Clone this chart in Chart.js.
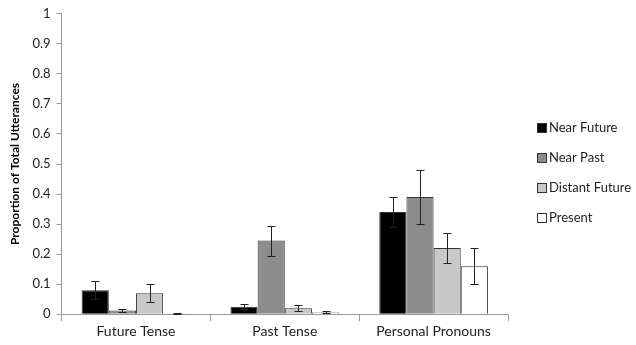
<!DOCTYPE html>
<html>
<head>
<meta charset="utf-8">
<script src="https://cdn.jsdelivr.net/npm/chart.js@4"></script>
<style>
  html, body { margin: 0; padding: 0; background: #fff; }
  #wrap { width: 636px; height: 345px; }
</style>
</head>
<body>
<div id="wrap"><canvas id="chart"></canvas></div>
<script>
// Data
const categories = ['Future Tense', 'Past Tense', 'Personal Pronouns'];
const seriesNames = ['Near Future', 'Near Past', 'Distant Future', 'Present'];
const nearFuture = [0.08, 0.025, 0.34];
const nearPast = [0.012, 0.245, 0.39];
const distantFuture = [0.07, 0.02, 0.22];
const present = [0.002, 0.006, 0.16];
const nearFutureErr = [0.03, 0.008, 0.05];
const nearPastErr = [0.004, 0.05, 0.09];
const distantFutureErr = [0.03, 0.01, 0.05];
const presentErr = [0.001, 0.003, 0.06];
const yTicks = [0, 0.1, 0.2, 0.3, 0.4, 0.5, 0.6, 0.7, 0.8, 0.9, 1];

const seriesValues = [nearFuture, nearPast, distantFuture, present];
const seriesErrors = [nearFutureErr, nearPastErr, distantFutureErr, presentErr];
const fills = ['#000000', '#8c8c8c', '#c8c8c8', '#ffffff'];

// error bars drawn on top of the bars
const errorBars = {
    id: 'errorBars',
    afterDatasetsDraw(chart) {
        const ctx = chart.ctx;
        const y = chart.scales.y;
        ctx.save();
        ctx.strokeStyle = '#222';
        ctx.lineWidth = 1;
        chart.data.datasets.forEach((ds, di) => {
            const meta = chart.getDatasetMeta(di);
            meta.data.forEach((bar, i) => {
                const v = ds.data[i];
                const e = seriesErrors[di][i];
                const top = Math.round(y.getPixelForValue(v + e)) + 0.5;
                const bot = Math.round(y.getPixelForValue(Math.max(0, v - e))) + 0.5;
                const x = Math.round(bar.x) + 0.5;
                ctx.beginPath();
                ctx.moveTo(x, top); ctx.lineTo(x, bot);
                ctx.moveTo(x - 4, top); ctx.lineTo(x + 4, top);
                ctx.moveTo(x - 4, bot); ctx.lineTo(x + 4, bot);
                ctx.stroke();
            });
        });
        ctx.restore();
    }
};

// legend at the right, Excel style
const sideLegend = {
    id: 'sideLegend',
    afterDraw(chart) {
        const ctx = chart.ctx;
        const x = chart.chartArea.right + 29;
        const mid = chart.height / 2;
        ctx.save();
        ctx.font = '13px Lato';
        ctx.textBaseline = 'middle';
        chart.data.datasets.forEach((ds, i) => {
            const yc = Math.round(mid + (i - 1.5) * 30);
            ctx.fillStyle = ds.backgroundColor;
            ctx.fillRect(x, yc - 5, 9, 9);
            ctx.strokeStyle = '#333';
            ctx.lineWidth = 1;
            ctx.strokeRect(x + 0.5, yc - 4.5, 9, 9);
            ctx.fillStyle = '#222';
            ctx.fillText(ds.label, x + 12, yc);
        });
        ctx.restore();
    }
};

const ctx = document.getElementById('chart').getContext('2d');
new Chart(ctx, {
    type: 'bar',
    data: {
        labels: categories,
        datasets: seriesNames.map((name, i) => ({
            label: name,
            data: seriesValues[i],
            backgroundColor: fills[i],
            borderColor: '#333',
            borderWidth: 1,
            barPercentage: 1,
            categoryPercentage: 0.73
        }))
    },
    options: {
        responsive: true,
        maintainAspectRatio: false,
        animation: false,
        layout: { padding: { top: 6, right: 128, left: 4, bottom: 3 } },
        plugins: {
            legend: { display: false },
            tooltip: { enabled: false }
        },
        scales: {
            x: {
                grid: { drawOnChartArea: false, tickLength: 7, color: '#999' },
                border: { color: '#999' },
                ticks: { color: '#222', padding: 2, font: { family: 'Lato', size: 14 } }
            },
            y: {
                min: 0,
                max: 1,
                afterBuildTicks: (axis) => { axis.ticks = yTicks.map(v => ({ value: v })); },
                grid: { drawOnChartArea: false, tickLength: 5, color: '#999' },
                border: { color: '#999' },
                ticks: {
                    color: '#222',
                    padding: 6,
                    font: { family: 'Lato', size: 13 },
                    callback: (v) => String(+v.toFixed(1))
                },
                title: {
                    display: true,
                    text: 'Proportion of Total Utterances',
                    color: '#000',
                    font: { family: 'Lato', size: 12, weight: 'bold' }
                }
            }
        }
    },
    plugins: [errorBars, sideLegend]
});
</script>
</body>
</html>
